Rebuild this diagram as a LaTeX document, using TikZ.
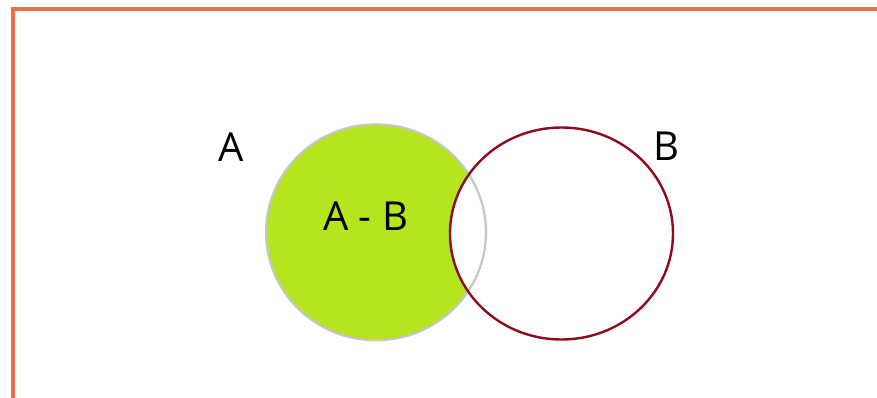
\documentclass[tikz,border=0pt]{standalone}
\usepackage{fontspec}
\setmainfont{Open Sans}
\definecolor{borderorange}{HTML}{EE6F47}
\definecolor{setgreen}{HTML}{B5E51D}
\definecolor{setgray}{HTML}{C6C6C6}
\definecolor{setred}{HTML}{8B0B1F}
\tikzset{
  frameline/.style={draw=borderorange, line width=3.5pt},
  setAline/.style={draw=setgray, line width=2.2pt},
  setBline/.style={draw=setred, line width=2.4pt},
  setlabel/.style={inner sep=0pt, font=\fontsize{40}{44}\selectfont, text=black},
}
\begin{document}
\begin{tikzpicture}[x=1pt,y=-1pt]
\useasboundingbox (0,0) rectangle (877,398);
\clip (0,0) rectangle (877,398);
\coordinate (fb) at (13,405);
\coordinate (fc) at (13,9);
\coordinate (fr) at (885,9);
\draw[frameline] (fb) -- (fc) -- (fr);
\coordinate (cA) at (376,232.3);
\coordinate (cB) at (561.5,233.5);
\fill[setgreen] (cA) ellipse [x radius=110, y radius=108];
\fill[white] (cB) ellipse [x radius=111.5, y radius=106];
\draw[setAline] (cA) ellipse [x radius=110, y radius=108];
\draw[setBline] (cB) ellipse [x radius=111.5, y radius=106];
\node[setlabel] (labA) at (231.5,147.5) {A};
\node[setlabel] (labB) at (666,146.5) {B};
\node[setlabel] (labAB) at (365.5,216) {A - B};
\end{tikzpicture}
\end{document}
